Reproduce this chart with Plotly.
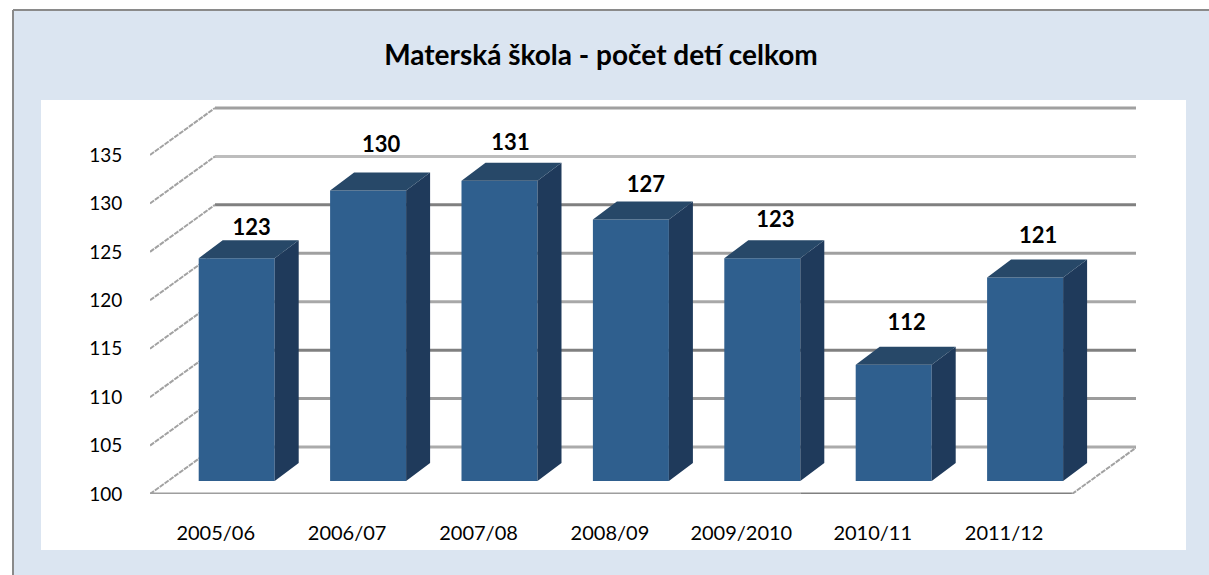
import plotly.graph_objects as go

# --- data ---
categories = ["2005/06", "2006/07", "2007/08", "2008/09", "2009/2010", "2010/11", "2011/12"]
values = [123, 130, 131, 127, 123, 112, 121]
y_ticks = [100, 105, 110, 115, 120, 125, 130, 135]
title_text = "Materská škola - počet detí celkom"

# --- style ---
grid_colors = ["#ababab", "#9c9c9c", "#808080", "#a8a8a8", "#a0a0a0", "#808080", "#bdbdbd", "#a0a0a0"]
label_lift_px = [11, 26, 18, 15, 19, 22, 22]
label_dx_px = [15, 13, 11, 15, 13, 13, 13]

W, H = 1209, 575
PANEL = "#dbe5f1"
L, R, T, B = 150, W - 1136, 100, H - 494
PX_X = 131.4      # px per category
PX_Y = 9.686      # px per value unit
x_lo = -0.5
x_hi = x_lo + (W - L - R) / PX_X
y_lo = 100
y_hi = y_lo + (H - T - B) / PX_Y

wall_dx, wall_dy = 65 / PX_X, 47 / PX_Y
bar_dx, bar_dy = 24 / PX_X, 18 / PX_Y
front_dx, front_dy = 21 / PX_X, 13 / PX_Y
bar_w = 76 / PX_X

FRONT, SIDE, TOP = "#2f5f8e", "#1f3a5b", "#274868"

xs = list(range(len(categories)))
base = y_lo + front_dy


def paper_xy(px0, py0, px1, py1):
    # paper coordinates measured from the plot area
    pw, ph = W - L - R, H - T - B
    return dict(x0=(px0 - L) / pw, x1=(px1 - L) / pw,
                y0=(H - B - py0) / ph, y1=(H - B - py1) / ph)


shapes = [
    # white surround above and left of the panel
    dict(type="rect", xref="paper", yref="paper", layer="below",
         fillcolor="#ffffff", line=dict(width=0), **paper_xy(-5, -5, W + 10, 10)),
    dict(type="rect", xref="paper", yref="paper", layer="below",
         fillcolor="#ffffff", line=dict(width=0), **paper_xy(-5, -5, 13, H + 10)),
    # panel border
    dict(type="line", xref="paper", yref="paper", layer="below",
         line=dict(color="#8a8a8a", width=2), **paper_xy(13, 10, W + 10, 10)),
    dict(type="line", xref="paper", yref="paper", layer="below",
         line=dict(color="#8a8a8a", width=2), **paper_xy(13, 10, 13, H + 10)),
    # white chart area
    dict(type="rect", xref="paper", yref="paper", layer="below",
         fillcolor="#ffffff", line=dict(width=0),
         **paper_xy(41, 100, 1186, 550)),
]
x_end = x_lo + 922 / PX_X
for tick, col in zip(y_ticks, grid_colors):
    # back wall line
    shapes.append(dict(type="line", xref="x", yref="y", layer="below",
                       x0=x_lo + wall_dx, x1=x_end + wall_dx,
                       y0=tick + wall_dy, y1=tick + wall_dy,
                       line=dict(color=col, width=3)))
    # side wall line
    shapes.append(dict(type="line", xref="x", yref="y", layer="below",
                       x0=x_lo, x1=x_lo + wall_dx,
                       y0=tick, y1=tick + wall_dy,
                       line=dict(color="#a2a2a2", width=2, dash="5px,1px")))
# floor
shapes += [
    dict(type="line", xref="x", yref="y", layer="below", x0=x_lo, x1=4.45, y0=y_lo, y1=y_lo,
         line=dict(color="#9e9e9e", width=3)),
    dict(type="line", xref="x", yref="y", layer="below", x0=4.45, x1=x_end, y0=y_lo, y1=y_lo,
         line=dict(color="#808080", width=3)),
    dict(type="line", xref="x", yref="y", layer="below", x0=x_end, x1=x_end + wall_dx,
         y0=y_lo, y1=y_lo + wall_dy, line=dict(color="#a2a2a2", width=2, dash="5px,1px")),
]

fig = go.Figure()

# front faces
fig.add_trace(go.Bar(
    x=[i + front_dx for i in xs],
    y=[v - y_lo for v in values],
    base=base,
    width=bar_w,
    marker=dict(color=FRONT, line=dict(width=0)),
    hoverinfo="skip",
    showlegend=False,
))

# side and top faces, derived from the values
side_x, side_y, top_x, top_y = [], [], [], []
for i, v in zip(xs, values):
    xl = i + front_dx - bar_w / 2
    xr = i + front_dx + bar_w / 2
    vt = base + v - y_lo
    side_x += [xr, xr + bar_dx, xr + bar_dx, xr, xr, None]
    side_y += [base, base + bar_dy, vt + bar_dy, vt, base, None]
    top_x += [xl, xl + bar_dx, xr + bar_dx, xr, xl, None]
    top_y += [vt, vt + bar_dy, vt + bar_dy, vt, vt, None]

fig.add_trace(go.Scatter(x=side_x, y=side_y, mode="lines", fill="toself", fillcolor=SIDE,
                         line=dict(width=0, color=SIDE), hoverinfo="skip", showlegend=False))
fig.add_trace(go.Scatter(x=top_x, y=top_y, mode="lines", fill="toself", fillcolor=TOP,
                         line=dict(width=0, color=TOP), hoverinfo="skip", showlegend=False))

# data labels
fig.add_trace(go.Scatter(
    x=[i + front_dx + dx / PX_X for i, dx in zip(xs, label_dx_px)],
    y=[base + v - y_lo + bar_dy + lift / PX_Y for v, lift in zip(values, label_lift_px)],
    mode="text",
    text=[str(v) for v in values],
    textposition="middle center",
    textfont=dict(family="Lato", size=22, color="#000000", weight="bold"),
    hoverinfo="skip",
    showlegend=False,
))

fig.update_layout(
    width=W, height=H, autosize=False,
    margin=dict(l=L, r=R, t=T, b=B, pad=0),
    paper_bgcolor=PANEL,
    plot_bgcolor="rgba(0,0,0,0)",
    shapes=shapes,
    showlegend=False,
    title=dict(text=title_text, x=601 / W, xanchor="center", y=1 - 55 / H, yanchor="middle",
               font=dict(family="Lato", size=28, color="#000000", weight="bold")),
    xaxis=dict(range=[x_lo, x_hi], tickmode="array", tickvals=xs, ticktext=categories,
               showgrid=False, zeroline=False, showline=False,
               ticks="outside", ticklen=21, tickcolor="rgba(0,0,0,0)",
               tickfont=dict(family="Lato", size=20, color="#000000")),
    yaxis=dict(range=[y_lo, y_hi], tickmode="array", tickvals=y_ticks,
               showgrid=False, zeroline=False, showline=False,
               ticks="outside", ticklen=23, tickcolor="rgba(0,0,0,0)",
               tickfont=dict(family="Lato", size=19, color="#000000")),
)

fig.write_html("out.html", config=dict(displayModeBar=False),
               post_script="document.body.style.margin='0';document.body.style.background='" + PANEL +
                           "';document.documentElement.style.overflow='hidden';")
